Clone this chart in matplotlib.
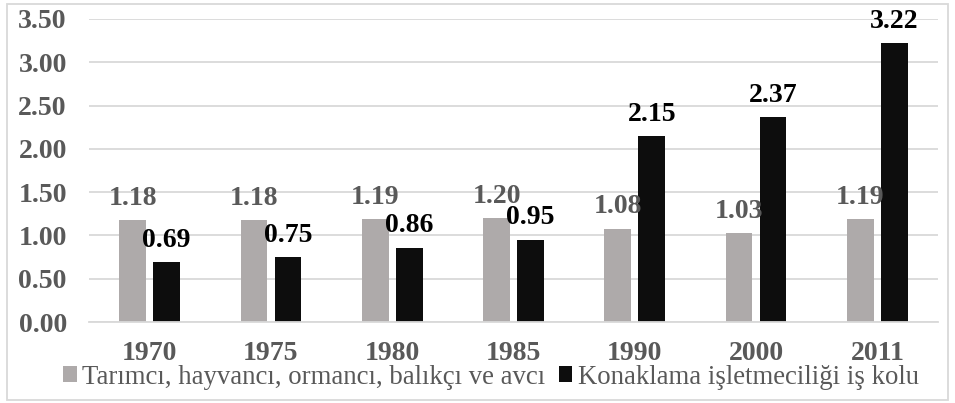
import numpy as np
import matplotlib.pyplot as plt
from matplotlib.patches import Rectangle

# data
years = ["1970", "1975", "1980", "1985", "1990", "2000", "2011"]
tarim = [1.18, 1.18, 1.19, 1.20, 1.08, 1.03, 1.19]
konaklama = [0.69, 0.75, 0.86, 0.95, 2.15, 2.37, 3.22]
series_names = ["Tarımcı, hayvancı, ormancı, balıkçı ve avcı",
                "Konaklama işletmeciliği iş kolu"]

GREY = "#AEAAAA"
BLACK = "#0D0D0D"
TXT = "#595959"

plt.rcParams['font.family'] = ['Liberation Serif', 'DejaVu Serif']

fig = plt.figure(figsize=(9.55, 4.03), dpi=100)
ax = fig.add_axes([89 / 955, 1 - 322 / 403, (938 - 89) / 955, (322 - 19) / 403])

x = np.arange(len(years))
w = 0.22
off = 0.14
b1 = ax.bar(x - off, tarim, w, color=GREY, label=series_names[0], zorder=2)
b2 = ax.bar(x + off, konaklama, w, color=BLACK, label=series_names[1], zorder=2)

for xi, v in zip(x, tarim):
    ax.annotate(f"{v:.2f}", (xi - off, v), xytext=(0, 11), textcoords="offset points",
                ha="center", va="baseline", fontsize=20, fontweight="bold", color=TXT, zorder=3)
for xi, v in zip(x, konaklama):
    ax.annotate(f"{v:.2f}", (xi + off, v), xytext=(0, 11), textcoords="offset points",
                ha="center", va="baseline", fontsize=20, fontweight="bold", color="black", zorder=3)

ax.set_xlim(-0.5, len(years) - 0.5)
ax.set_ylim(0, 3.5)
ax.set_yticks(np.arange(0, 3.51, 0.5))
ax.set_yticklabels([f"{t:.2f}" for t in np.arange(0, 3.51, 0.5)])
ax.set_xticks(x)
ax.set_xticklabels(years)
ax.grid(axis="y", color="#D9D9D9", linewidth=1.3, zorder=0)
ax.set_axisbelow(True)
for s in ["top", "right", "left"]:
    ax.spines[s].set_visible(False)
ax.spines["bottom"].set_color("#D9D9D9")
ax.spines["bottom"].set_linewidth(1.3)
ax.tick_params(axis="both", length=0, labelsize=20, labelcolor=TXT)
ax.tick_params(axis="y", pad=16)
ax.tick_params(axis="x", pad=14)
for lab in ax.get_xticklabels() + ax.get_yticklabels():
    lab.set_fontweight("bold")

fig.legend(handles=[b1, b2], loc="center", bbox_to_anchor=(491 / 955, 1 - 377 / 403),
           ncol=2, frameon=False, fontsize=19.3, labelcolor=TXT,
           handlelength=0.5, handleheight=0.5, handletextpad=0.2, columnspacing=0.5)

fig.patches.append(Rectangle((7 / 955, 3 / 403), 941 / 955, 396 / 403, transform=fig.transFigure,
                             fill=False, edgecolor="#D9D9D9", linewidth=1.3))

fig.savefig("out.png", dpi=100)
